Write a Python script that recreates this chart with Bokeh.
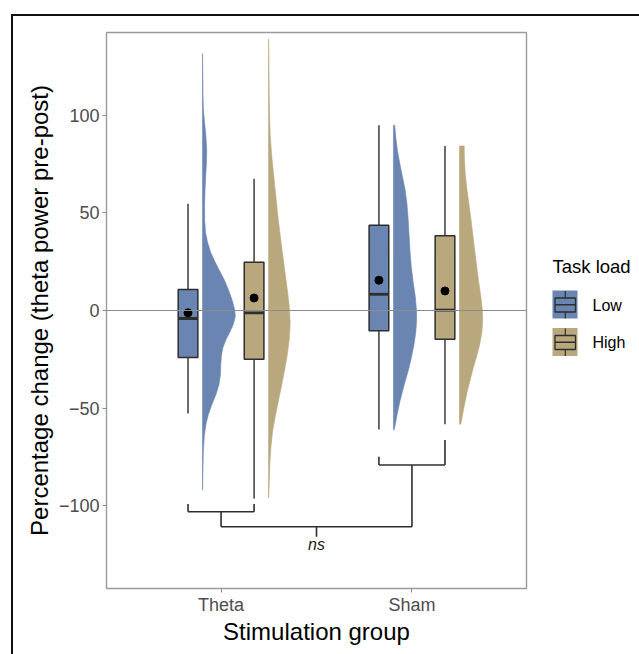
from bokeh.plotting import figure
from bokeh.layouts import row
from bokeh.models import Range1d, FixedTicker, Label, Span, InlineStyleSheet
from bokeh.core.properties import value
from bokeh.embed import file_html
from bokeh.resources import INLINE

# ---------------- data ----------------
groups = ["Theta", "Sham"]          # x categories (positions 1, 2)
loads = ["Low", "High"]             # task load (dodged)

# box-plot statistics per group [Theta, Sham]
low_q1 = [-24.0, -10.4]
low_med = [-4.1, 8.3]
low_q3 = [10.7, 43.6]
low_wlo = [-52.7, -60.9]
low_whi = [54.7, 94.8]
low_mean = [-1.2, 15.5]

high_q1 = [-24.9, -14.7]
high_med = [-1.2, 0.2]
high_q3 = [24.7, 38.2]
high_wlo = [-96.2, -58.2]
high_whi = [67.5, 84.2]
high_mean = [6.4, 10.0]

# half-violin density profiles (y value, relative density)
theta_low_y = [131.5, 120, 110, 104, 99, 94, 88, 82, 76, 70, 62, 54, 46, 40, 35, 30, 25, 20, 15, 10, 5,
               0, -3, -7, -11, -15, -19, -23, -28, -33, -38, -43, -48, -53, -58, -64, -72, -82, -92]
theta_low_d = [0.0, 0.3, 0.5, 0.8, 1.5, 2.5, 3.6, 4.2, 4.0, 3.3, 2.5, 2.1, 2.2, 3.0, 5.0, 8.0, 12.5,
               17.5, 22.5, 26.5, 30.0, 32.5, 33.0, 31.0, 27.5, 23.5, 20.5, 19.0, 18.3, 18.0, 16.5,
               13.5, 9.5, 6.0, 3.5, 1.8, 0.8, 0.4, 0.0]
theta_high_y = [139, 125, 112, 100, 90, 80, 70, 60, 50, 40, 30, 20, 10, 2, -6, -14, -22, -30, -38,
                -46, -54, -62, -70, -78, -88, -96]
theta_high_d = [0.0, 0.3, 0.6, 1.0, 1.6, 3.0, 5.0, 7.0, 9.0, 11.3, 13.8, 16.4, 19.0, 20.8, 21.7,
                21.0, 19.0, 16.3, 13.3, 10.0, 6.8, 4.0, 2.3, 1.3, 0.7, 0.0]
sham_low_y = [94.8, 88, 82, 75, 68, 62, 55, 47, 39, 30, 22, 14, 7, 0, -5, -11, -17, -23, -29, -35,
              -41, -47, -53, -58, -61]
sham_low_d = [1.3, 2.5, 4.0, 6.5, 9.3, 11.7, 13.5, 14.8, 15.7, 16.7, 18.0, 20.0, 22.0, 23.2, 23.3,
              22.5, 20.8, 18.5, 15.8, 12.5, 9.3, 6.3, 3.8, 2.0, 0.7]
sham_high_y = [84.2, 78, 70, 62, 54, 46, 38, 30, 22, 14, 7, 0, -5, -11, -17, -23, -29, -35, -41,
               -47, -53, -58.2]
sham_high_d = [4.7, 4.9, 5.8, 7.5, 9.6, 11.7, 13.6, 15.5, 17.4, 19.5, 21.5, 23.0, 23.3, 22.5, 20.5,
               17.5, 14.0, 11.0, 8.0, 5.5, 3.2, 1.3]

# significance brackets (y levels)
theta_pair_tops = [-99.0, -99.0]
theta_pair_bar = -103.0
sham_pair_tops = [-74.9, -66.3]
sham_pair_bar = -79.1
overall_bar = -110.7
overall_tick = -115.8
ns_label_y = -119.6
ns_text = "ns"

y_ticks = [-100, -50, 0, 50, 100]

# ---------------- style ----------------
BLUE = "#6b85b2"
TAN = "#b9a87d"
DARK = "#2e2e2e"
FONT = "Liberation Sans"
DODGE = 0.173
BOX_W = 0.103
VIO_OFF = 0.076
DENS_SCALE = 1.0 / 192.0
TOP, BOTTOM = 32, 66

p = figure(width=540, height=654, x_range=Range1d(0.4, 2.6), y_range=Range1d(-142.3, 142.3),
           min_border_left=106, min_border_right=14, min_border_top=TOP, min_border_bottom=BOTTOM,
           output_backend="svg", toolbar_location=None)
p.background_fill_color = "white"
p.border_fill_color = "white"
p.outline_line_color = "#9a9a9a"
p.outline_line_width = 1.4
p.xgrid.visible = False
p.ygrid.visible = False

for ax in (p.xaxis[0], p.yaxis[0]):
    ax.axis_line_color = None
    ax.major_tick_line_color = "#8a8a8a"
    ax.major_tick_in = 0
    ax.major_tick_out = 4
    ax.minor_tick_line_color = None
    ax.major_label_text_font = FONT
    ax.major_label_text_font_size = "18px"
    ax.major_label_text_color = "#4d4d4d"
    ax.axis_label_text_font = FONT
    ax.axis_label_text_font_size = "24px"
    ax.axis_label_text_font_style = "normal"
    ax.axis_label_text_color = "black"

p.xaxis.ticker = FixedTicker(ticks=[1, 2])
p.xaxis.major_label_overrides = {1: groups[0], 2: groups[1]}
p.xaxis.axis_label = "Stimulation group"
p.xaxis.major_label_standoff = 2
p.xaxis.axis_label_standoff = 0
p.yaxis.ticker = FixedTicker(ticks=y_ticks)
p.yaxis.axis_label = "Percentage change (theta power pre-post)"
p.yaxis.major_label_standoff = 3
p.yaxis.axis_label_standoff = 3

centers = [1, 2]
series = [
    ("Low", BLUE, -DODGE, low_q1, low_med, low_q3, low_wlo, low_whi, low_mean,
     [(theta_low_y, theta_low_d), (sham_low_y, sham_low_d)]),
    ("High", TAN, DODGE, high_q1, high_med, high_q3, high_wlo, high_whi, high_mean,
     [(theta_high_y, theta_high_d), (sham_high_y, sham_high_d)]),
]

# violins
for name, col, off, q1, med, q3, wlo, whi, mean, vios in series:
    for c, (vy, vd) in zip(centers, vios):
        base = c + off + VIO_OFF
        xs = [base] + [base + d * DENS_SCALE for d in vd] + [base]
        ys = [vy[0]] + list(vy) + [vy[-1]]
        p.patch(xs, ys, fill_color=col, line_color=col, line_width=0.6)

# zero line
p.add_layout(Span(location=0, dimension="width", line_color="#8c8c8c", line_width=1))

# boxes
for name, col, off, q1, med, q3, wlo, whi, mean, vios in series:
    xc = [c + off for c in centers]
    p.segment(x0=xc, y0=q3, x1=xc, y1=whi, line_color=DARK, line_width=1.4)
    p.segment(x0=xc, y0=q1, x1=xc, y1=wlo, line_color=DARK, line_width=1.4)
    p.quad(left=[x - BOX_W / 2 for x in xc], right=[x + BOX_W / 2 for x in xc], bottom=q1, top=q3,
           fill_color=col, line_color=DARK, line_width=1.5)
    p.segment(x0=[x - BOX_W / 2 for x in xc], y0=med, x1=[x + BOX_W / 2 for x in xc], y1=med,
              line_color=DARK, line_width=2.8)
    p.scatter(x=xc, y=mean, size=8, marker="circle", fill_color="black", line_color="black")

# brackets
bx0 = []; by0 = []; bx1 = []; by1 = []
def seg(a, b, c, d):
    bx0.append(a); by0.append(b); bx1.append(c); by1.append(d)

for c, tops, bar in [(1, theta_pair_tops, theta_pair_bar), (2, sham_pair_tops, sham_pair_bar)]:
    xl, xr = c - DODGE, c + DODGE
    seg(xl, tops[0], xl, bar)
    seg(xr, tops[1], xr, bar)
    seg(xl, bar, xr, bar)
    seg(c, bar, c, overall_bar)
seg(centers[0], overall_bar, centers[1], overall_bar)
mid = (centers[0] + centers[1]) / 2
seg(mid, overall_bar, mid, overall_tick)
p.segment(x0=bx0, y0=by0, x1=bx1, y1=by1, line_color=DARK, line_width=1.6)

p.add_layout(Label(x=mid, y=ns_label_y, text=ns_text, text_font=FONT, text_font_size="16px",
                   text_font_style="italic", text_align="center", text_baseline="middle",
                   text_color="#1a1a1a"))

# ---------------- legend panel (page pixel coordinates) ----------------
leg = figure(width=99, height=654, x_range=Range1d(540, 639), y_range=Range1d(654 - BOTTOM, TOP),
             min_border_left=0, min_border_right=0, min_border_top=TOP, min_border_bottom=BOTTOM,
             x_axis_type=None, y_axis_type=None,
             output_backend="svg", toolbar_location=None)
leg.outline_line_color = None
leg.xgrid.visible = False
leg.ygrid.visible = False
leg.background_fill_color = "white"
leg.border_fill_color = "white"

leg.text(x=[552], y=[266], text=["Task load"], text_font=value(FONT), text_font_size="18.5px",
         text_baseline="middle", text_color="black")
key_cols = [BLUE, TAN]
key_top = [290 + i * 37.5 for i in range(len(loads))]
leg.quad(left=[552] * 2, right=[577] * 2, top=key_top, bottom=[t + 28 for t in key_top],
         fill_color=key_cols, line_color=None)
leg.quad(left=[554.5] * 2, right=[575] * 2, top=[t + 7.5 for t in key_top],
         bottom=[t + 21.5 for t in key_top], fill_alpha=0, line_color=DARK, line_width=1.3)
leg.segment(x0=[554.5] * 2, x1=[575] * 2, y0=[t + 14.2 for t in key_top], y1=[t + 14.2 for t in key_top],
            line_color=DARK, line_width=1.5)
leg.segment(x0=[564.8] * 4, x1=[564.8] * 4,
            y0=[t + 0.5 for t in key_top] + [t + 21.5 for t in key_top],
            y1=[t + 7.5 for t in key_top] + [t + 28 for t in key_top],
            line_color=DARK, line_width=1.2)
leg.text(x=[592] * 2, y=[t + 14.5 for t in key_top], text=loads, text_font=value(FONT),
         text_font_size="16px", text_baseline="middle", text_color="black")

frame_css = InlineStyleSheet(css="""
:host { position: relative; }
:host::after { content: ''; position: absolute; left: 11px; top: 14px; right: 0; bottom: 0;
  border-left: 2.5px solid #111; border-top: 2.5px solid #111; pointer-events: none; z-index: 100; }
""")
layout = row(p, leg, spacing=0, stylesheets=[frame_css])

open("out.html", "w").write(file_html(layout, INLINE))
